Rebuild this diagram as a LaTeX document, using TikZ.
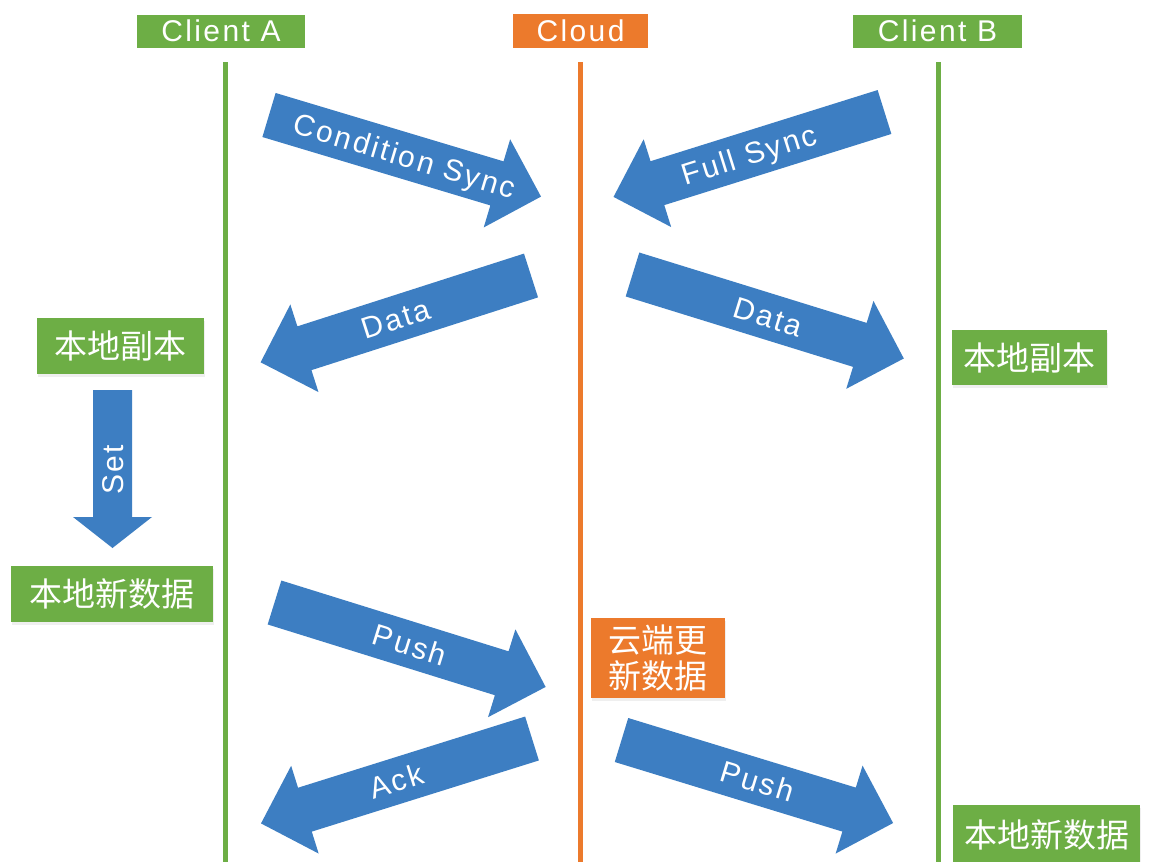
\documentclass[tikz,border=0pt]{standalone}
\usepackage{fontspec}
\setmainfont{Liberation Sans}
\newfontfamily\latinf{Liberation Sans}[LetterSpace=8]
\newfontfamily\cjkf{Noto Sans CJK SC}
\usetikzlibrary{shadows}
\definecolor{cgreen}{HTML}{6DAE45}
\definecolor{corange}{HTML}{EC7A2C}
\definecolor{cblue}{HTML}{3D7EC2}
\tikzset{
  hdr/.style={fill=#1, text=white, inner sep=0pt, text height=21.5pt, text depth=0pt,
    font=\latinf\fontsize{30}{32}\selectfont},
  cbox/.style={fill=#1, text=white, inner sep=0pt, text height=29pt, text depth=4pt,
    font=\cjkf\fontsize{33}{36}\selectfont,
    drop shadow={opacity=0.12, shadow xshift=1pt, shadow yshift=-3pt}},
  cbox2/.style={fill=#1, text=white, inner sep=0pt, align=center,
    font=\cjkf\fontsize{33}{36}\selectfont,
    drop shadow={opacity=0.12, shadow xshift=1pt, shadow yshift=-3pt}},
  alabel/.style={text=white, inner sep=0pt, text height=21.5pt, text depth=0pt,
    font=\latinf\fontsize{30}{32}\selectfont},
  life/.style={draw=#1, line width=5pt},
  arrowfill/.style={fill=cblue}
}
% #1 name, #2 tail x, #3 tail y, #4 arrow angle, #5 text angle, #6 text
\newcommand\blkarrow[6]{%
  \begin{scope}[shift={(#2,#3)},rotate=#4]
    \fill[arrowfill] (0,-23) -- (238,-23) -- (238,-46) -- (284,0) -- (238,46) -- (238,23) -- (0,23) -- cycle;
    \node[alabel,rotate=#5] (#1) at (142,0) {#6};
  \end{scope}}
\begin{document}
\begin{tikzpicture}[x=1pt,y=-1pt]
\fill[white] (0,0) rectangle (1149,862);
\useasboundingbox (0,0) rectangle (1149,862);

% lifelines
\coordinate (topA) at (225,62);  \coordinate (botA) at (225,862);
\coordinate (topC) at (580,62);  \coordinate (botC) at (580,862);
\coordinate (topB) at (938,62);  \coordinate (botB) at (938,862);
\draw[life=cgreen] (topA) -- (botA);
\draw[life=corange] (topC) -- (botC);
\draw[life=cgreen] (topB) -- (botB);

% headers
\node[hdr=cgreen, minimum width=168pt, minimum height=33pt] (hA) at (221,31) {Client A};
\node[hdr=corange, minimum width=135pt, minimum height=34pt] (hC) at (580.5,30.5) {Cloud};
\node[hdr=cgreen, minimum width=169pt, minimum height=33pt] (hB) at (937.5,31) {Client B};

% local boxes
\node[cbox=cgreen, minimum width=167pt, minimum height=56pt] (locA1) at (120.5,346) {本地副本};
\node[cbox=cgreen, minimum width=202pt, minimum height=56pt] (locA2) at (112,594) {本地新数据};
\node[cbox=cgreen, minimum width=155pt, minimum height=55pt] (locB1) at (1029.5,357.5) {本地副本};
\node[cbox=cgreen, minimum width=187pt, minimum height=60pt] (locB2) at (1046.5,835) {本地新数据};
\node[cbox2=corange, minimum width=134pt, minimum height=80pt] (cloudnew) at (658,658) {云端更\\[0pt]新数据};

% Set arrow
\fill[arrowfill] (93,390) -- (132,390) -- (132,517) -- (152,517) -- (112.5,548) -- (73,517) -- (93,517) -- cycle;
\node[alabel, rotate=90] (set) at (112.5,470) {Set};

% block arrows
\blkarrow{condsync}{269}{115}{-16.7}{-16.7}{Condition Sync}
\blkarrow{fullsync}{884.5}{112}{197.4}{17.4}{Full Sync}
\blkarrow{dataA}{531}{275.5}{197.8}{17.8}{Data}
\blkarrow{dataB}{632.5}{274.5}{-17.2}{-17.2}{Data}
\blkarrow{pushA}{274.5}{602.5}{-17.3}{-17.3}{Push}
\blkarrow{ack}{532}{738.5}{197.4}{17.4}{Ack}
\blkarrow{pushB}{621.5}{740}{-17.0}{-17.0}{Push}
\end{tikzpicture}
\end{document}
